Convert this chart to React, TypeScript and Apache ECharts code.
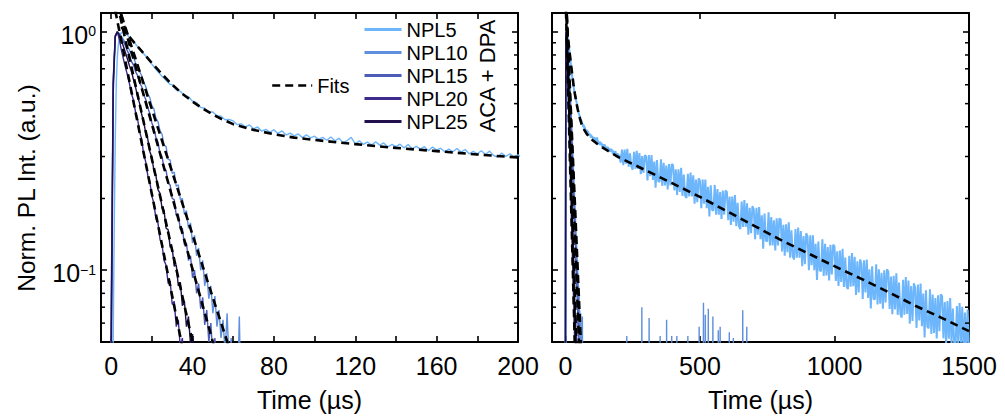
import React, { useEffect, useRef } from 'react';
import * as echarts from 'echarts';

const FONT = '"Liberation Sans", Arial, sans-serif';

const seriesNames = ['NPL5', 'NPL10', 'NPL15', 'NPL20', 'NPL25'];
const seriesColors = ['#6db6fb', '#5f8fdd', '#4c5db7', '#3d2c8e', '#22104d'];

const leftXLabels = [0, 40, 80, 120, 160, 200];
const leftXTicks = [0, 20, 40, 60, 80, 100, 120, 140, 160, 180, 200];
const rightXTicks = [0, 500, 1000, 1500];
const yMinorTicks = [0.06, 0.07, 0.08, 0.09, 0.2, 0.3, 0.4, 0.5, 0.6, 0.7, 0.8, 0.9];
const Y_MIN = 0.05;
const Y_MAX = 1.2;

// NPL5: rise and early decay (t, value)
const npl5Rise: number[][] = [
  [-3, 0.01], [0, 0.012], [1, 0.05], [1.5, 0.15], [2, 0.35], [2.5, 0.6], [3, 0.78], [3.5, 0.88],
  [4, 0.94], [4.5, 0.975], [5, 0.99], [5.5, 1.0], [6, 1.0], [6.5, 0.995], [7, 0.985], [8, 0.967],
  [9, 0.948], [10, 0.928], [11, 0.909], [12, 0.888], [13, 0.869], [14, 0.849], [15, 0.831], [16, 0.809],
  [17, 0.792], [18, 0.771], [19, 0.752], [20, 0.732], [21, 0.714], [22, 0.697], [23, 0.681], [24, 0.666],
  [25, 0.651], [26, 0.639], [27, 0.625], [28, 0.614], [29, 0.601],
];
// NPL5: t = 30 .. 198, every 2 µs
const npl5MidStart = 30;
const npl5MidStep = 2;
const npl5Mid = [
  0.601, 0.571, 0.563, 0.540, 0.535, 0.512, 0.505, 0.482, 0.478, 0.461,
  0.461, 0.445, 0.443, 0.428, 0.429, 0.423, 0.408, 0.412, 0.399, 0.407,
  0.392, 0.399, 0.383, 0.390, 0.380, 0.388, 0.375, 0.384, 0.369, 0.376,
  0.366, 0.373, 0.360, 0.370, 0.359, 0.365, 0.354, 0.361, 0.351, 0.362,
  0.349, 0.358, 0.343, 0.350, 0.361, 0.339, 0.349, 0.337, 0.345, 0.335,
  0.346, 0.335, 0.342, 0.329, 0.337, 0.330, 0.338, 0.326, 0.337, 0.323,
  0.331, 0.322, 0.330, 0.317, 0.329, 0.319, 0.325, 0.314, 0.322, 0.314,
  0.324, 0.313, 0.321, 0.308, 0.315, 0.308, 0.317, 0.306, 0.316, 0.303,
  0.298, 0.310, 0.300, 0.308, 0.299,
];
// NPL5: t = 200 .. 1500, every 5 µs
const npl5TailStart = 200;
const npl5TailStep = 5;
const npl5Tail = [
  0.305, 0.283, 0.321, 0.276, 0.321, 0.280, 0.323, 0.272, 0.309, 0.272,
  0.264, 0.314, 0.266, 0.317, 0.266, 0.310, 0.253, 0.301, 0.256, 0.304,
  0.300, 0.238, 0.304, 0.248, 0.304, 0.239, 0.286, 0.222, 0.290, 0.236,
  0.235, 0.292, 0.226, 0.282, 0.227, 0.275, 0.218, 0.279, 0.227, 0.279,
  0.276, 0.216, 0.265, 0.207, 0.265, 0.213, 0.269, 0.205, 0.252, 0.205,
  0.201, 0.254, 0.204, 0.257, 0.204, 0.250, 0.190, 0.240, 0.193, 0.243,
  0.237, 0.182, 0.240, 0.190, 0.240, 0.182, 0.224, 0.168, 0.227, 0.179,
  0.178, 0.228, 0.171, 0.219, 0.171, 0.213, 0.164, 0.216, 0.171, 0.216,
  0.213, 0.162, 0.204, 0.155, 0.204, 0.160, 0.207, 0.153, 0.192, 0.153,
  0.149, 0.194, 0.152, 0.197, 0.152, 0.191, 0.141, 0.183, 0.143, 0.186,
  0.180, 0.135, 0.183, 0.141, 0.184, 0.135, 0.170, 0.123, 0.173, 0.133,
  0.132, 0.175, 0.127, 0.167, 0.127, 0.162, 0.121, 0.165, 0.127, 0.165,
  0.163, 0.120, 0.155, 0.115, 0.156, 0.119, 0.159, 0.113, 0.147, 0.114,
  0.111, 0.149, 0.113, 0.151, 0.113, 0.146, 0.104, 0.139, 0.106, 0.143,
  0.138, 0.100, 0.140, 0.105, 0.140, 0.100, 0.129, 0.091, 0.132, 0.0998,
  0.0991, 0.135, 0.0946, 0.129, 0.095, 0.125, 0.0907, 0.128, 0.0959, 0.128,
  0.126, 0.0902, 0.120, 0.0859, 0.121, 0.0894, 0.123, 0.085, 0.113, 0.0854,
  0.0833, 0.115, 0.0853, 0.118, 0.0858, 0.114, 0.0788, 0.109, 0.0807, 0.111,
  0.107, 0.0757, 0.110, 0.0806, 0.111, 0.0765, 0.101, 0.0691, 0.104, 0.0759,
  0.0754, 0.106, 0.0718, 0.101, 0.0723, 0.0975, 0.0689, 0.100, 0.0733, 0.101,
  0.099, 0.0688, 0.094, 0.0654, 0.0947, 0.0685, 0.0972, 0.065, 0.0888, 0.0655,
  0.0633, 0.0912, 0.0651, 0.0936, 0.0656, 0.0906, 0.0597, 0.0858, 0.0612, 0.0882,
  0.0846, 0.0573, 0.0872, 0.0616, 0.088, 0.0583, 0.0799, 0.0522, 0.0824, 0.0581,
  0.057, 0.0833, 0.054, 0.079, 0.0545, 0.0764, 0.0517, 0.0786, 0.0555, 0.0793,
  0.0777, 0.0518, 0.0735, 0.049, 0.0742, 0.0516, 0.0764, 0.0488, 0.0691, 0.0492,
  0.0478, 0.0708, 0.0492, 0.0728, 0.0497, 0.0703, 0.0449, 0.0664, 0.0462, 0.0684,
  0.0467,
];

// Fast decays, sampled every 1 µs
const fastTimes = [
  -2, -1, 0, 1, 2, 3, 4, 5, 6, 7, 8, 9, 10, 11, 12, 13, 14, 15, 16, 17, 18, 19, 20, 21, 22, 23,
  24, 25, 26, 27, 28, 29, 30, 31, 32, 33, 34, 35, 36, 37, 38, 39, 40, 41, 42, 43, 44, 45, 46, 47,
  48, 49, 50, 51, 52, 53, 54, 55, 56, 57, 58, 59, 60, 61, 62, 63, 64, 65, 66,
];
const npl10 = [
  0.001, 0.004, 0.07, 0.64, 0.96, 1.0, 0.985, 0.96, 0.93, 0.9, 0.865, 0.84, 0.8, 0.78, 0.74, 0.72,
  0.68, 0.655, 0.615, 0.59, 0.55, 0.53, 0.49, 0.475, 0.435, 0.42, 0.385, 0.372, 0.335, 0.33, 0.292,
  0.29, 0.255, 0.258, 0.225, 0.228, 0.198, 0.2, 0.172, 0.178, 0.15, 0.158, 0.13, 0.14, 0.115, 0.124,
  0.1, 0.11, 0.086, 0.097, 0.076, 0.086, 0.066, 0.078, 0.058, 0.068, 0.052, 0.062, 0.045, 0.066,
  0.04, 0.052, 0.034, 0.048, 0.028, 0.064, 0.024, 0.03, 0.02,
];
const npl15 = [
  0.001, 0.004, 0.06, 0.62, 0.96, 1.0, 0.98, 0.95, 0.91, 0.875, 0.83, 0.8, 0.75, 0.725, 0.68, 0.655,
  0.61, 0.59, 0.545, 0.52, 0.48, 0.455, 0.415, 0.395, 0.36, 0.345, 0.31, 0.3, 0.268, 0.262, 0.232,
  0.228, 0.2, 0.198, 0.17, 0.172, 0.148, 0.15, 0.128, 0.13, 0.11, 0.115, 0.093, 0.1, 0.08, 0.088,
  0.069, 0.077, 0.059, 0.068, 0.05, 0.06, 0.043, 0.052, 0.036, 0.045, 0.03, 0.038, 0.022, 0.03, 0.015,
];
const npl20 = [
  0.001, 0.002, 0.03, 0.55, 0.95, 1.0, 0.93, 0.84, 0.77, 0.71, 0.66, 0.605, 0.55, 0.515, 0.46, 0.43,
  0.38, 0.355, 0.305, 0.285, 0.25, 0.235, 0.205, 0.19, 0.165, 0.158, 0.135, 0.128, 0.11, 0.105, 0.088,
  0.09, 0.072, 0.074, 0.058, 0.062, 0.047, 0.052, 0.038, 0.046, 0.031, 0.036, 0.022, 0.03, 0.018,
  0.02, 0.012,
];
const npl25 = [
  0.001, 0.003, 0.05, 0.6, 0.96, 1.0, 0.97, 0.92, 0.87, 0.82, 0.77, 0.72, 0.68, 0.63, 0.585, 0.535,
  0.5, 0.45, 0.42, 0.375, 0.355, 0.315, 0.298, 0.262, 0.25, 0.218, 0.21, 0.182, 0.178, 0.15, 0.148,
  0.125, 0.124, 0.104, 0.105, 0.086, 0.089, 0.071, 0.074, 0.058, 0.064, 0.049, 0.054, 0.04, 0.046,
  0.034, 0.036, 0.026, 0.03, 0.02,
];
// isolated noise counts of NPL10 in the long-time window (t, value)
const npl10Spikes: number[][] = [
  [228, 0.053], [284, 0.07], [311, 0.063], [352, 0.053], [376, 0.062], [395, 0.053], [414, 0.053],
  [455, 0.053], [497, 0.058], [513, 0.073], [520, 0.065], [531, 0.069], [548, 0.064], [568, 0.056],
  [575, 0.058], [609, 0.055], [624, 0.052], [659, 0.068], [674, 0.058],
];
const spikeFloor = 0.02;

// Fits (t, value)
const fit5: number[][] = [
  [5, 1.05], [7, 1.0], [10, 0.93], [15, 0.83], [20, 0.74], [25, 0.665], [30, 0.6], [35, 0.55],
  [40, 0.51], [45, 0.477], [50, 0.45], [55, 0.428], [60, 0.41], [70, 0.388], [80, 0.372], [90, 0.36],
  [100, 0.352], [120, 0.338], [140, 0.326], [160, 0.316], [180, 0.306], [200, 0.297], [300, 0.262],
  [400, 0.231], [500, 0.203], [600, 0.177], [700, 0.154], [800, 0.134], [900, 0.118], [1000, 0.104],
  [1100, 0.092], [1200, 0.081], [1300, 0.071], [1400, 0.063], [1500, 0.0555],
];
const fit10: number[][] = [[3, 1.33], [10, 0.87], [20, 0.474], [30, 0.258], [40, 0.141], [50, 0.0766], [60, 0.042], [64, 0.033]];
const fit15: number[][] = [[3, 1.35], [10, 0.824], [20, 0.41], [30, 0.203], [40, 0.101], [50, 0.05], [56, 0.033]];
const fit20: number[][] = [[2, 1.23], [10, 0.56], [20, 0.209], [30, 0.078], [40, 0.029]];
const fit25: number[][] = [[3, 1.32], [10, 0.71], [20, 0.293], [30, 0.121], [40, 0.05], [45, 0.032]];

function buildNpl5(): number[][] {
  const out: number[][] = npl5Rise.map((p) => [p[0], p[1]]);
  npl5Mid.forEach((v, i) => out.push([npl5MidStart + i * npl5MidStep, v]));
  npl5Tail.forEach((v, i) => out.push([npl5TailStart + i * npl5TailStep, v]));
  return out;
}
function zipFast(values: number[]): number[][] {
  return values.map((v, i) => [fastTimes[i], v]);
}
function buildNpl10(): number[][] {
  const out = zipFast(npl10);
  npl10Spikes.forEach(([t, v]) => {
    out.push([t - 1, spikeFloor], [t, v], [t + 1, spikeFloor]);
  });
  return out;
}

function supLabel(value: number): string {
  const e = Math.log10(value);
  if (Math.abs(e - Math.round(e)) > 1e-6) return '';
  const n = Math.round(e);
  return `{b|10}{s|${n < 0 ? '\u2212' + -n : n}}`;
}

export default function App() {
  const ref = useRef<HTMLDivElement>(null);
  useEffect(() => {
    if (!ref.current) return;
    const chart = echarts.init(ref.current, null, { renderer: 'svg' });

    const dataSets = [buildNpl5(), buildNpl10(), zipFast(npl15), zipFast(npl20), zipFast(npl25)];
    const fits = [fit5, fit10, fit15, fit20, fit25];

    const axisLine = { show: true, onZero: false, lineStyle: { color: '#000', width: 2 } };
    const tickStyle = { color: '#000', width: 1.6 };

    const xAxisFor = (grid: number, pos: 'top' | 'bottom', min: number, max: number, ticks: number[], labels: number[] | null, name: string) => ({
      type: 'value',
      gridIndex: grid,
      position: pos,
      min,
      max,
      name,
      nameLocation: 'middle',
      nameGap: 45,
      nameTextStyle: { fontSize: 25, color: '#000', fontFamily: FONT },
      axisLine,
      splitLine: { show: false },
      axisTick: { show: true, inside: true, length: 6, lineStyle: tickStyle, customValues: ticks },
      axisLabel: labels
        ? {
            show: true,
            customValues: labels,
            formatter: (v: number) => String(v),
            fontSize: 25,
            color: '#000',
            fontFamily: FONT,
            margin: 11,
          }
        : { show: false },
    });

    const yAxisFor = (grid: number, pos: 'left' | 'right', labels: boolean) => ({
      type: 'log',
      logBase: 10,
      gridIndex: grid,
      position: pos,
      min: Y_MIN,
      max: Y_MAX,
      axisLine,
      splitLine: { show: false },
      minorTick: { show: false },
      axisTick: { show: true, inside: true, length: 6, lineStyle: tickStyle },
      axisLabel: labels
        ? {
            show: true,
            margin: 5,
            formatter: supLabel,
            rich: {
              b: { fontSize: 25, fontFamily: FONT, color: '#000', padding: [6, 0, 0, 0], verticalAlign: 'bottom' },
              s: { fontSize: 14, fontFamily: FONT, color: '#000', padding: [8, 0, 0, 0], verticalAlign: 'top' },
            },
          }
        : { show: false },
    });

    const series: any[] = [];
    [0, 1].forEach((panel) => {
      const ax = panel * 2;
      dataSets.forEach((d, i) => {
        series.push({
          type: 'line',
          name: seriesNames[i],
          xAxisIndex: ax,
          yAxisIndex: ax,
          data: d,
          symbol: 'none',
          clip: true,
          lineStyle: { color: seriesColors[i], width: panel === 1 && i === 0 ? 2 : 1.4 },
          itemStyle: { color: seriesColors[i] },
          z: 2,
        });
      });
      fits.forEach((f) => {
        series.push({
          type: 'line',
          name: 'Fits',
          xAxisIndex: ax,
          yAxisIndex: ax,
          data: f,
          symbol: 'none',
          clip: true,
          lineStyle: { color: '#000', width: 2.6, type: [8, 5] },
          itemStyle: { color: '#000' },
          z: 3,
        });
      });
      series.push({
        type: 'custom',
        name: 'minorTicks',
        xAxisIndex: ax,
        yAxisIndex: ax,
        silent: true,
        clip: false,
        z: 5,
        data: yMinorTicks.map((v) => [0, v]),
        renderItem: (params: any, api: any) => {
          const cs = params.coordSys;
          const y = api.coord([api.value(0), api.value(1)])[1];
          return {
            type: 'group',
            children: [
              { type: 'line', shape: { x1: cs.x, y1: y, x2: cs.x + 4, y2: y }, style: { stroke: '#000', lineWidth: 1.5 } },
              { type: 'line', shape: { x1: cs.x + cs.width - 4, y1: y, x2: cs.x + cs.width, y2: y }, style: { stroke: '#000', lineWidth: 1.5 } },
            ],
          };
        },
      });
    });

    const legendText = { fontSize: 20, fontFamily: FONT, color: '#000', lineHeight: 23 };

    const option: any = {
      animation: false,
      backgroundColor: '#fff',
      textStyle: { fontFamily: FONT, color: '#000' },
      grid: [
        { left: 101, top: 13, width: 417, height: 330 },
        { left: 552, top: 13, width: 417, height: 330 },
      ],
      xAxis: [
        xAxisFor(0, 'bottom', -5, 200, leftXTicks, leftXLabels, 'Time (\u00b5s)'),
        xAxisFor(0, 'top', -5, 200, leftXTicks, null, ''),
        xAxisFor(1, 'bottom', -50, 1500, rightXTicks, rightXTicks, 'Time (\u00b5s)'),
        xAxisFor(1, 'top', -50, 1500, rightXTicks, null, ''),
      ],
      yAxis: [
        yAxisFor(0, 'left', true),
        yAxisFor(0, 'right', false),
        yAxisFor(1, 'left', false),
        yAxisFor(1, 'right', false),
      ],
      legend: [
        {
          data: seriesNames,
          orient: 'vertical',
          left: 358,
          top: 13,
          itemWidth: 37,
          itemHeight: 10,
          itemGap: 0,
          selectedMode: false,
          itemStyle: { opacity: 0 },
          lineStyle: { width: 3 },
          textStyle: legendText,
        },
        {
          data: ['Fits'],
          orient: 'vertical',
          left: 266,
          top: 69,
          itemWidth: 40,
          itemHeight: 10,
          selectedMode: false,
          itemStyle: { opacity: 0 },
          lineStyle: { width: 2.4 },
          textStyle: legendText,
        },
      ],
      graphic: [
        {
          type: 'text',
          x: 487,
          y: 76,
          rotation: Math.PI / 2,
          style: {
            text: 'ACA + DPA',
            font: `22px ${FONT}`,
            fill: '#000',
            align: 'center',
            verticalAlign: 'middle',
            textAlign: 'center',
            textVerticalAlign: 'middle',
          },
        },
        {
          type: 'text',
          x: 26,
          y: 188,
          rotation: Math.PI / 2,
          style: {
            text: 'Norm. PL Int. (a.u.)',
            font: `24.5px ${FONT}`,
            fill: '#000',
            align: 'center',
            verticalAlign: 'middle',
            textAlign: 'center',
            textVerticalAlign: 'middle',
          },
        },
      ],
      series,
    };

    chart.setOption(option);
    return () => chart.dispose();
  }, []);

  return (
    <div
      ref={ref}
      style={{ position: 'absolute', left: 0, top: 0, width: 1005, height: 417, background: '#fff' }}
    />
  );
}
